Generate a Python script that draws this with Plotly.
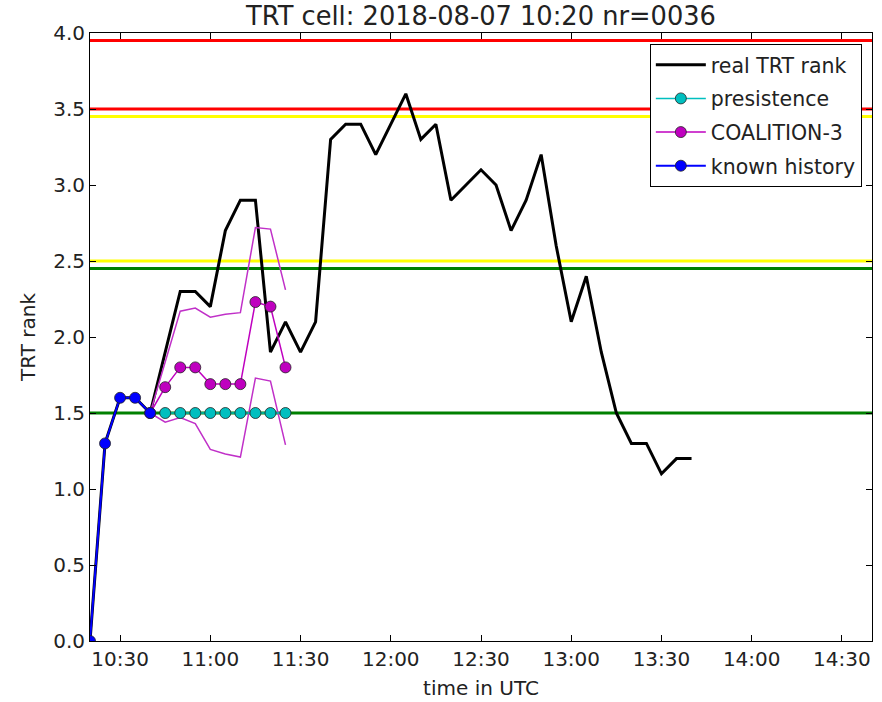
import plotly.graph_objects as go
import pandas as pd

DAY = "2018-08-07"

def t(hm):
    return pd.Timestamp(f"{DAY} {hm}")

# real TRT rank
real_times = ["10:20", "10:25", "10:30", "10:35", "10:40", "10:45", "10:50", "10:55", "11:00",
              "11:05", "11:10", "11:15", "11:20", "11:25", "11:30", "11:35", "11:40", "11:45",
              "11:50", "11:55", "12:00", "12:05", "12:10", "12:15", "12:20", "12:25", "12:30",
              "12:35", "12:40", "12:45", "12:50", "12:55", "13:00", "13:05", "13:10", "13:15",
              "13:20", "13:25", "13:30", "13:35", "13:40"]
real_rank = [0.0, 1.3, 1.6, 1.6, 1.5, 1.9, 2.3, 2.3, 2.2,
             2.7, 2.9, 2.9, 1.9, 2.1, 1.9, 2.1, 3.3, 3.4,
             3.4, 3.2, 3.4, 3.6, 3.3, 3.4, 2.9, 3.0, 3.1,
             3.0, 2.7, 2.9, 3.2, 2.6, 2.1, 2.4, 1.9, 1.5,
             1.3, 1.3, 1.1, 1.2, 1.2]

# known history
hist_times = ["10:20", "10:25", "10:30", "10:35", "10:40"]
hist_rank = [0.0, 1.3, 1.6, 1.6, 1.5]

# forecasts
fc_times = ["10:40", "10:45", "10:50", "10:55", "11:00", "11:05", "11:10", "11:15", "11:20", "11:25"]
persist_rank = [1.5, 1.5, 1.5, 1.5, 1.5, 1.5, 1.5, 1.5, 1.5, 1.5]
coal_rank = [1.5, 1.67, 1.8, 1.8, 1.69, 1.69, 1.69, 2.23, 2.2, 1.8]
coal_upper = [1.5, 1.84, 2.17, 2.19, 2.13, 2.15, 2.16, 2.72, 2.71, 2.31]
coal_lower = [1.5, 1.44, 1.47, 1.43, 1.26, 1.23, 1.21, 1.73, 1.71, 1.29]

# threshold lines
red_levels = [3.95, 3.5]
yellow_levels = [3.45, 2.5]
green_levels = [2.45, 1.5]

x_start, x_end = t("10:20"), t("14:40")
tick_labels = ["10:30", "11:00", "11:30", "12:00", "12:30", "13:00", "13:30", "14:00", "14:30"]

fig = go.Figure()

for levels, col in [(red_levels, "#ff0000"), (yellow_levels, "#ffff00"), (green_levels, "#008000")]:
    for lv in levels:
        fig.add_trace(go.Scatter(x=[x_start, x_end], y=[lv, lv], mode="lines",
                                 line=dict(color=col, width=3), showlegend=False, hoverinfo="skip"))

fig.add_trace(go.Scatter(x=[t(s) for s in real_times], y=real_rank, mode="lines",
                         line=dict(color="black", width=3), name="real TRT rank", legendgroup="a"))

for band in (coal_upper, coal_lower):
    fig.add_trace(go.Scatter(x=[t(s) for s in fc_times], y=band, mode="lines",
                             line=dict(color="#c030c8", width=1.5), showlegend=False))

mk = dict(size=11, line=dict(color="#222222", width=0.8))
fig.add_trace(go.Scatter(x=[t(s) for s in fc_times[1:]], y=persist_rank[1:], mode="lines+markers",
                         line=dict(color="#00bfbf", width=1.5),
                         marker=dict(color="#00bfbf", **mk), name="presistence", legendgroup="b"))
fig.add_trace(go.Scatter(x=[t(s) for s in fc_times], y=coal_rank, mode="lines+markers",
                         line=dict(color="#bf00bf", width=1.5),
                         marker=dict(color="#bf00bf", **mk), name="COALITION-3", legendgroup="c"))
fig.add_trace(go.Scatter(x=[t(s) for s in hist_times], y=hist_rank, mode="lines+markers",
                         line=dict(color="#0000ff", width=2),
                         marker=dict(color="#0000ff", **mk), name="known history", legendgroup="d"))

axis_common = dict(showgrid=False, zeroline=False, showline=True, linecolor="black", linewidth=1,
                   mirror="allticks", ticks="inside", ticklen=6, tickcolor="black",
                   tickfont=dict(size=20, color="#222222"), automargin=False)

fig.update_layout(
    width=882, height=702,
    margin=dict(l=90, r=10, t=33, b=61),
    paper_bgcolor="white", plot_bgcolor="white",
    font=dict(family="DejaVu Sans", color="#222222"),
    title=dict(text="TRT cell: 2018-08-07 10:20 nr=0036", x=0.5, xref="paper", xanchor="center",
               y=1 - 16 / 702, yanchor="middle", font=dict(size=25.7)),
    xaxis=dict(range=[x_start, x_end], tickvals=[t(s) for s in tick_labels], ticktext=tick_labels,
               title=dict(text="time in UTC", font=dict(size=20), standoff=10), **axis_common),
    yaxis=dict(range=[0, 4], dtick=0.5, tickformat=".1f",
               title=dict(text="TRT rank", font=dict(size=20), standoff=12), **axis_common),
    legend=dict(x=0.987, y=0.982, xanchor="right", yanchor="top", bgcolor="white",
                bordercolor="black", borderwidth=1, font=dict(size=20.5, color="#222222"),
                tracegroupgap=4, itemwidth=50),
)

fig.write_html("out.html", config={"displayModeBar": False},
               post_script="document.body.style.margin='0';")
